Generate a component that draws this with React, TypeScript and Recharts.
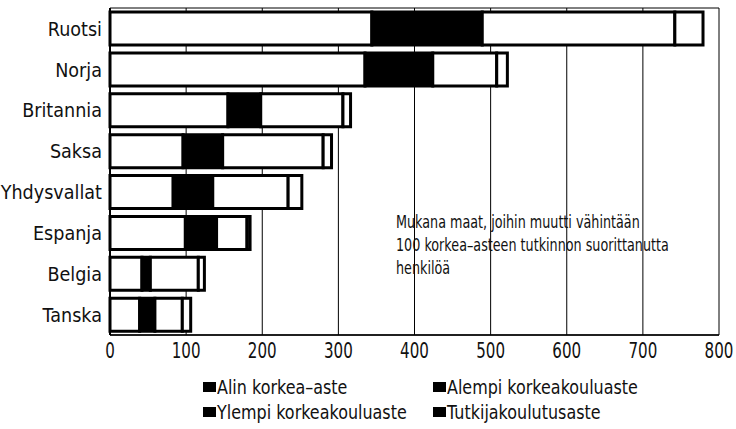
import { BarChart, Bar, XAxis, YAxis, CartesianGrid } from "recharts";

const countries = ["Ruotsi", "Norja", "Britannia", "Saksa", "Yhdysvallat", "Espanja", "Belgia", "Tanska"];
const alin = [344, 335, 155, 96, 83, 99, 42, 39];
const alempi = [145, 89, 43, 52, 52, 41, 11, 20];
const ylempi = [253, 84, 108, 132, 99, 40, 63, 36];
const tutkija = [37, 14, 10, 11, 18, 4, 8, 11];
const xTicks = [0, 100, 200, 300, 400, 500, 600, 700, 800];

const series = [
  { key: "alin", name: "Alin korkea–aste", fill: "#fff" },
  { key: "alempi", name: "Alempi korkeakouluaste", fill: "#000" },
  { key: "ylempi", name: "Ylempi korkeakouluaste", fill: "#fff" },
  { key: "tutkija", name: "Tutkijakoulutusaste", fill: "#fff" },
];

const note = [
  "Mukana maat, joihin muutti vähintään",
  "100 korkea–asteen tutkinnon suorittanutta",
  "henkilöä",
];

const data = countries.map((c, i) => ({
  country: c,
  alin: alin[i],
  alempi: alempi[i],
  ylempi: ylempi[i],
  tutkija: tutkija[i],
}));

const FONT = "'DejaVu Sans', sans-serif";

// no condensed face installed, so squeeze the glyphs horizontally
function YTick({ x, y, payload }: any) {
  return (
    <g transform={`translate(${x},${y}) scale(0.88,1)`}>
      <text textAnchor="end" dy="0.36em" fontFamily={FONT} fontSize={20} fill="#111">
        {payload.value}
      </text>
    </g>
  );
}

function XTick({ x, y, payload }: any) {
  return (
    <g transform={`translate(${x},${y}) scale(0.72,1)`}>
      <text textAnchor="middle" dy="0.71em" fontFamily={FONT} fontSize={21} fill="#111">
        {payload.value}
      </text>
    </g>
  );
}

function Narrow({ text, size, sx }: { text: string; size: number; sx: number }) {
  return (
    <span
      style={{
        display: "inline-block",
        fontFamily: FONT,
        fontSize: size,
        transform: `scaleX(${sx})`,
        transformOrigin: "left center",
        whiteSpace: "nowrap",
      }}
    >
      {text}
    </span>
  );
}

export default function App() {
  return (
    <div style={{ position: "absolute", left: 0, top: 0, width: 736, height: 429, background: "#fff", color: "#111" }}>
      <BarChart
        width={736}
        height={429}
        data={data}
        layout="vertical"
        margin={{ top: 8, right: 17, bottom: 0, left: 0 }}
        barSize={33}
      >
        <CartesianGrid
          stroke="#000"
          strokeWidth={1}
          vertical
          horizontal
          horizontalCoordinatesGenerator={({ offset }: any) => [offset.top, offset.top + offset.height]}
        />
        <XAxis
          type="number"
          domain={[0, 800]}
          ticks={xTicks}
          tickLine={false}
          axisLine={{ stroke: "#000", strokeWidth: 1.5 }}
          tick={<XTick />}
          height={94}
          interval={0}
        />
        <YAxis
          type="category"
          dataKey="country"
          width={110}
          tickLine={false}
          axisLine={{ stroke: "#000", strokeWidth: 2 }}
          tick={<YTick />}
          interval={0}
        />
        {series.map((s) => (
          <Bar
            key={s.key}
            dataKey={s.key}
            name={s.name}
            stackId="a"
            fill={s.fill}
            stroke="#000"
            strokeWidth={3}
            isAnimationActive={false}
          />
        ))}
      </BarChart>
      <div
        style={{
          position: "absolute",
          left: 203,
          top: 376,
          display: "grid",
          gridTemplateColumns: "230px 200px",
          rowGap: 3,
        }}
      >
        {series.map((s) => (
          <div key={s.key} style={{ display: "flex", alignItems: "center", height: 22 }}>
            <span style={{ display: "inline-block", width: 13, height: 10, background: "#000", marginRight: 1, flex: "none" }} />
            <Narrow text={s.name} size={19} sx={0.84} />
          </div>
        ))}
      </div>
      <div style={{ position: "absolute", left: 396, top: 211, lineHeight: "23px" }}>
        {note.map((l) => (
          <div key={l}>
            <Narrow text={l} size={17} sx={0.75} />
          </div>
        ))}
      </div>
    </div>
  );
}
